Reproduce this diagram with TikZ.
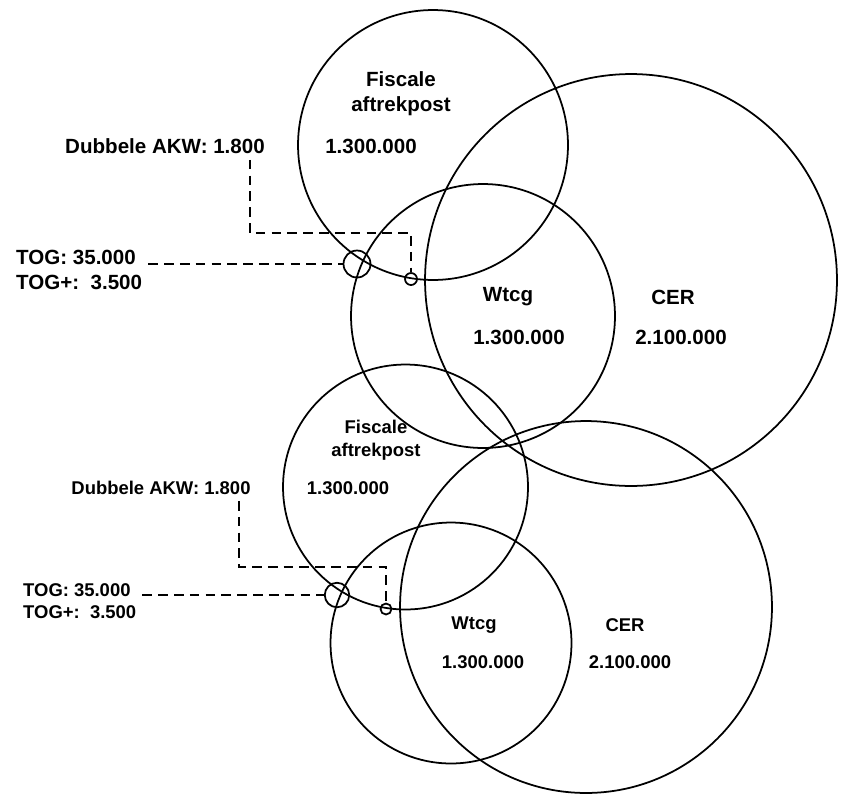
\documentclass[tikz,border=0pt]{standalone}
\usepackage{fontspec}
\setmainfont{Liberation Sans}
\tikzset{
  ring/.style={circle, draw, line width=1pt, inner sep=0pt},
  lbl/.style={font=\fontsize{11.7}{14.3}\selectfont\bfseries},
  slbl/.style={font=\fontsize{10.5}{12.9}\selectfont\bfseries},
  leader/.style={line width=0.9pt, dash pattern=on 5.5pt off 3.5pt},
}
\begin{document}
\begin{tikzpicture}[x=0.02cm, y=-0.02cm]
\useasboundingbox (0,0) rectangle (841,795);
% upper diagram
\node[ring, minimum size=5.4cm] (fis1) at (433,145){};
\node[ring, minimum size=5.28cm] (wtcg1) at (483,316){};
\node[ring, minimum size=8.24cm] (cer1) at (631,280){};
\node[ring, minimum size=0.54cm] (tog1) at (357,264){};
\node[ring, minimum size=0.24cm] (akw1) at (411,279){};
\node[lbl, align=center] (fist1) at (401,94){Fiscale\\aftrekpost};
\node[lbl] (fisv1) at (371,146){1.300.000};
\node[lbl] (wtcgt1) at (508,297){Wtcg};
\node[lbl] (wtcgv1) at (519,337){1.300.000};
\node[lbl] (cert1) at (673,297){CER};
\node[lbl] (cerv1) at (681,337){2.100.000};
\node[lbl] (dub1) at (165,146){Dubbele AKW: 1.800};
\node[lbl, anchor=west, align=left] (togt1) at (10,270){TOG: 35.000\\TOG+:\ \ 3.500};
\coordinate (bend1) at (250,233);
\draw[leader](dub1.south -| bend1) -- (bend1) -| (akw1);
\draw[leader](togt1.east |- tog1) -- (tog1);

% lower diagram
\node[ring, minimum size=4.9cm] (fis2) at (405.5,487){};
\node[ring, minimum size=4.82cm] (wtcg2) at (451,643){};
\node[ring, minimum size=7.44cm] (cer2) at (586,607){};
\node[ring, minimum size=0.49cm] (tog2) at (337,595){};
\node[ring, minimum size=0.22cm] (akw2) at (386,609){};
\node[slbl, align=center] (fist2) at (376,440){Fiscale\\aftrekpost};
\node[slbl] (fisv2) at (348,488){1.300.000};
\node[slbl] (wtcgt2) at (474,625){Wtcg};
\node[slbl] (wtcgv2) at (483,662){1.300.000};
\node[slbl] (cert2) at (625,625){CER};
\node[slbl] (cerv2) at (630,662){2.100.000};
\node[slbl] (dub2) at (161,488){Dubbele AKW: 1.800};
\node[slbl, anchor=west, align=left] (togt2) at (17,601){TOG: 35.000\\TOG+:\ \ 3.500};
\coordinate (bend2) at (239,567);
\draw[leader](dub2.south -| bend2) -- (bend2) -| (akw2);
\draw[leader](togt2.east |- tog2) -- (tog2);

\end{tikzpicture}
\end{document}
